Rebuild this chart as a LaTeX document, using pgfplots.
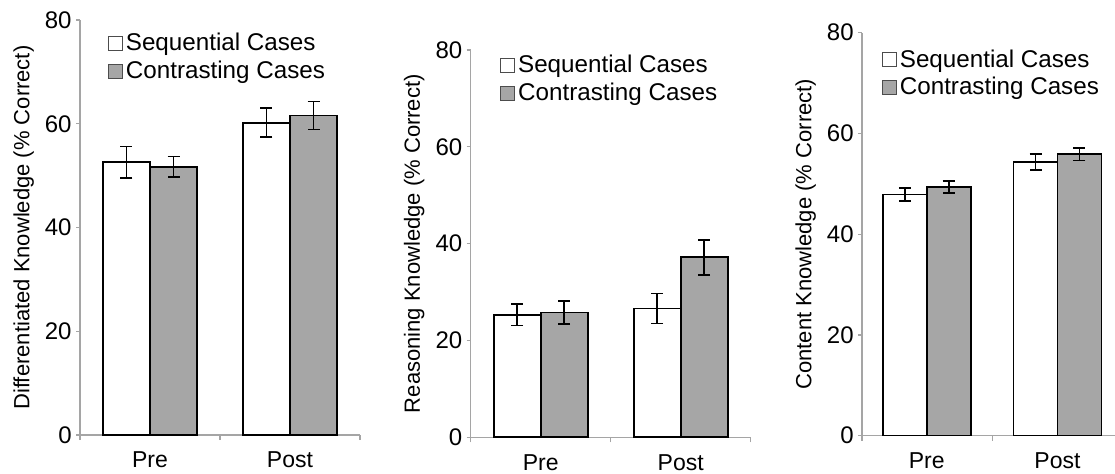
\documentclass[border=0pt]{standalone}
\usepackage{fontspec}
\setmainfont{Liberation Sans}
\usepackage{pgfplots}
\pgfplotsset{compat=1.18}
\definecolor{barfill}{RGB}{166,166,166}
\definecolor{axgray}{RGB}{165,165,165}

\pgfplotsset{
  panel/.style={
    scale only axis,
    ybar, bar width=0.336,
    ymin=0, ymax=80, ytick={0,20,40,60,80},
    axis x line*=bottom, axis y line*=left,
    axis line style={axgray, line width=0.6pt},
    tick align=outside, major tick length=2pt, minor tick length=2.5pt,
    every tick/.style={axgray, line width=0.6pt},
    xtick={0,1}, xticklabels={Pre,Post},
    major x tick style={draw=none},
    /pgf/number format/assume math mode=true,
    yticklabel style={font=\fontsize{12}{14}\selectfont, inner xsep=2pt},
    xticklabel style={font=\fontsize{11.5}{14}\selectfont, yshift=-3pt},
    ylabel style={font=\fontsize{11}{13}\selectfont},
    legend style={draw=none, fill=none, anchor=north west,
      font=\fontsize{12.1}{14}\selectfont, row sep=1.6pt,
      nodes={inner xsep=1.5pt, inner ysep=1pt}},
    legend cell align=left,
    legend image code/.code={\draw[#1, draw=black!70, line width=0.4pt] (0pt,-3.5pt) rectangle (7pt,3.5pt);},
  },
  seq/.style={fill=white, draw=black, line width=0.9pt, bar shift=-0.168,
    error bars/.cd, y dir=both, y explicit,
    error bar style={line width=0.9pt, black},
    error mark options={rotate=90, mark size=3pt, line width=0.9pt, black}},
  con/.style={fill=barfill, draw=black, line width=0.9pt, bar shift=0.168,
    error bars/.cd, y dir=both, y explicit,
    error bar style={line width=0.9pt, black},
    error mark options={rotate=90, mark size=3pt, line width=0.9pt, black}},
}

\begin{document}
\begin{tikzpicture}
\useasboundingbox (0,0) rectangle (557.5pt,236.5pt);

% panel 1
\begin{axis}[panel, at={(40pt,19pt)}, anchor=south west,
  width=140pt, height=207.5pt, xmin=-0.5, xmax=1.5,
  minor xtick={-0.5,0.5,1.5},
  ylabel={Differentiated Knowledge (\% Correct)},
  legend style={at={(0.0775,0.984)}}]
\addplot[seq] coordinates {(0,52.6) +- (0,3.0) (1,60.2) +- (0,2.8)};
\addlegendentry{Sequential Cases}
\addplot[con] coordinates {(0,51.7) +- (0,2.0) (1,61.6) +- (0,2.7)};
\addlegendentry{Contrasting Cases}
\end{axis}

% panel 2
\begin{axis}[panel, at={(235.35pt,17.85pt)}, anchor=south west,
  width=140pt, height=193.65pt, xmin=-0.5, xmax=1.5,
  minor xtick={-0.5,0.5,1.5},
  ylabel={Reasoning Knowledge (\% Correct)},
  legend style={at={(0.083,1.003)}}]
\addplot[seq] coordinates {(0,25.3) +- (0,2.2) (1,26.6) +- (0,3.1)};
\addlegendentry{Sequential Cases}
\addplot[con] coordinates {(0,25.8) +- (0,2.4) (1,37.2) +- (0,3.6)};
\addlegendentry{Contrasting Cases}
\end{axis}

% panel 3
\begin{axis}[panel, at={(431pt,18.65pt)}, anchor=south west,
  width=126.5pt, height=201.5pt, xmin=-0.495, xmax=1.44,
  minor xtick={-0.495,0.5},
  ylabel={Content Knowledge (\% Correct)},
  legend style={at={(0.054,0.974)}}]
\addplot[seq] coordinates {(0,47.9) +- (0,1.3) (1,54.3) +- (0,1.6)};
\addlegendentry{Sequential Cases}
\addplot[con] coordinates {(0,49.4) +- (0,1.2) (1,55.9) +- (0,1.25)};
\addlegendentry{Contrasting Cases}
\end{axis}
\end{tikzpicture}
\end{document}
